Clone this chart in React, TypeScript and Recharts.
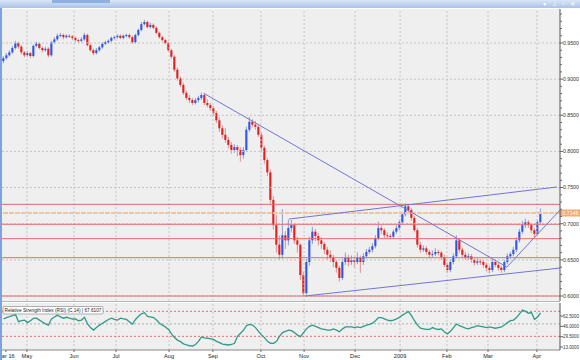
import React from 'react';
import { ComposedChart, LineChart, Line, Bar, XAxis, YAxis, ReferenceLine } from 'recharts';

type C = [number, number, number, number]; // open, high, low, close

const candlesAprMay: C[] = [
  [.925,.932,.922,.929],[.929,.936,.927,.933],[.933,.940,.931,.937],[.937,.946,.935,.943],[.943,.953,.941,.950],
  [.950,.952,.942,.945],[.945,.947,.934,.937],[.937,.939,.930,.933],[.933,.939,.931,.936],[.936,.938,.929,.932],
  [.932,.948,.930,.946],[.946,.952,.944,.949],[.949,.951,.941,.943],[.943,.945,.937,.940],[.940,.945,.938,.942],
  [.942,.944,.930,.933],[.933,.953,.931,.951],[.951,.958,.949,.955],[.955,.963,.953,.960],[.960,.964,.958,.961],
  [.961,.963,.955,.958],[.958,.962,.956,.960],[.960,.962,.957,.959],[.959,.961,.954,.957],[.957,.959,.951,.954],
  [.954,.956,.950,.953],[.953,.958,.951,.955],[.955,.964,.953,.961],[.961,.963,.945,.947],[.947,.949,.938,.940],
];
const candlesJunJul: C[] = [
  [.940,.942,.933,.936],[.936,.943,.934,.940],[.940,.946,.938,.944],[.944,.951,.942,.949],[.949,.953,.947,.951],
  [.951,.955,.949,.953],[.953,.959,.951,.957],[.957,.960,.955,.958],[.958,.962,.956,.960],[.960,.962,.955,.957],
  [.957,.962,.955,.960],[.960,.963,.958,.961],[.961,.963,.956,.958],[.958,.960,.949,.951],[.951,.963,.949,.961],
  [.961,.970,.959,.968],[.968,.979,.966,.976],[.976,.982,.974,.979],[.979,.981,.970,.972],[.972,.978,.970,.975],
  [.975,.977,.969,.971],[.971,.973,.962,.964],[.964,.966,.956,.958],[.958,.960,.952,.954],[.954,.956,.948,.950],
  [.950,.952,.938,.940],[.940,.942,.928,.931],[.931,.933,.910,.913],[.913,.916,.898,.901],[.901,.904,.889,.892],
];
const candlesAugSep: C[] = [
  [.892,.895,.878,.881],[.881,.884,.871,.874],[.874,.878,.867,.871],[.871,.874,.864,.867],[.867,.874,.865,.871],
  [.871,.877,.868,.874],[.874,.881,.871,.878],[.878,.880,.864,.867],[.867,.872,.861,.864],[.864,.867,.856,.860],
  [.860,.863,.849,.853],[.853,.856,.839,.843],[.843,.847,.827,.832],[.832,.836,.818,.823],[.823,.832,.812,.816],
  [.816,.820,.804,.809],[.809,.813,.797,.802],[.802,.810,.798,.806],[.806,.809,.793,.802],[.802,.806,.786,.795],
  [.795,.806,.790,.802],[.802,.834,.800,.830],[.830,.848,.827,.841],[.841,.845,.833,.837],[.837,.842,.830,.834],
  [.834,.837,.820,.823],[.823,.826,.800,.805],[.805,.808,.783,.788],[.788,.791,.766,.771],[.771,.775,.728,.733],
];
const candlesOctNov: C[] = [
  [.733,.738,.692,.698],[.698,.712,.660,.671],[.671,.684,.650,.657],[.657,.720,.652,.684],[.684,.690,.665,.677],
  [.677,.706,.670,.694],[.694,.705,.688,.698],[.698,.700,.672,.677],[.677,.682,.660,.671],[.671,.673,.622,.629],
  [.629,.634,.600,.604],[.604,.652,.602,.647],[.647,.682,.642,.677],[.677,.696,.672,.689],[.689,.693,.676,.683],
  [.683,.687,.670,.677],[.677,.681,.665,.672],[.672,.675,.658,.664],[.664,.668,.650,.657],[.657,.663,.647,.653],
  [.653,.657,.640,.647],[.647,.650,.632,.639],[.639,.642,.620,.625],[.625,.652,.622,.647],[.647,.660,.643,.653],
  [.653,.657,.641,.647],[.647,.656,.643,.650],[.650,.654,.640,.647],[.647,.660,.644,.653],[.653,.656,.632,.647],
];
const candlesDecJan: C[] = [
  [.647,.659,.643,.655],[.655,.665,.652,.661],[.661,.668,.658,.664],[.664,.673,.660,.669],[.669,.684,.666,.680],
  [.680,.703,.677,.694],[.694,.698,.686,.691],[.691,.694,.680,.684],[.684,.688,.679,.683],[.683,.686,.678,.682],
  [.682,.692,.679,.689],[.689,.698,.686,.694],[.694,.705,.691,.702],[.702,.716,.699,.713],[.713,.728,.710,.724],
  [.724,.727,.714,.719],[.719,.722,.704,.708],[.708,.711,.688,.691],[.691,.694,.667,.671],[.671,.675,.660,.664],
  [.664,.670,.661,.666],[.666,.669,.657,.661],[.661,.664,.652,.657],[.657,.663,.654,.658],[.658,.666,.655,.661],
  [.661,.664,.656,.660],[.660,.662,.650,.654],[.654,.657,.640,.643],[.643,.646,.632,.636],[.636,.651,.633,.647],
];
const candlesFebApr: C[] = [
  [.647,.659,.644,.655],[.655,.684,.652,.677],[.677,.680,.660,.664],[.664,.667,.653,.657],[.657,.661,.650,.653],
  [.653,.659,.650,.655],[.655,.658,.646,.650],[.650,.653,.642,.646],[.646,.652,.643,.648],[.648,.651,.643,.647],
  [.647,.650,.639,.643],[.643,.646,.634,.639],[.639,.642,.631,.636],[.636,.651,.633,.647],[.647,.650,.640,.643],
  [.643,.646,.635,.639],[.639,.642,.632,.636],[.636,.650,.633,.647],[.647,.659,.644,.655],[.655,.661,.652,.658],
  [.658,.668,.655,.664],[.664,.681,.661,.677],[.677,.693,.674,.689],[.689,.704,.686,.698],[.698,.707,.694,.702],
  [.702,.705,.694,.698],[.698,.701,.687,.691],[.691,.694,.682,.686],[.686,.705,.684,.702],[.702,.721,.700,.715],
];

const rsiValues: number[] = [
  57.7, 60, 61.4, 63, 65, 53.4, 55, 56, 52, 55,
  58.8, 59, 56, 53, 50, 48, 58, 61, 64, 61,
  59, 60.5, 59, 57.7, 57.7, 55, 56, 60.4, 50, 44,
  40, 44, 48, 51, 54, 57, 59, 57, 56, 59,
  58, 57, 53, 49.7, 57, 62, 66, 67.8, 62, 61,
  60, 56, 51, 48, 45, 41, 34, 28, 24, 21.5,
  18, 16.2, 15, 14.6, 17, 22, 29, 27.5, 27, 26,
  25, 22, 20, 17.5, 17, 16.2, 17, 19, 30, 35,
  40, 47, 49, 48, 44, 38, 32, 28, 22, 19,
  18.9, 22, 30, 36, 38, 40, 39, 36, 32, 29.5,
  36, 42, 46, 48, 46, 44, 42, 41, 40, 40,
  42, 40, 37.4, 42, 45, 45, 45, 44, 45, 44,
  46, 48, 49, 51, 55, 60, 60, 58, 56, 55,
  56, 58, 60.4, 64, 67, 69.4, 63, 55, 48, 43,
  42, 41, 41, 44, 42, 41, 42, 37, 34, 38,
  44, 49.7, 47, 45, 43, 42, 44, 45, 47, 46,
  45, 44, 45, 44, 43, 44, 45, 48, 52, 55,
  56, 60, 66, 72, 70, 67, 68, 57, 61, 67.6,
];

const monthTicks = [0.8, 7.8, 23.5, 37.5, 55.2, 69.8, 85.8, 100.2, 117.2, 132.2, 147.8, 161.5, 177.8];
const monthLabels = ['Mar 16', 'May', 'Jun', 'Jul', 'Aug', 'Sep', 'Oct', 'Nov', 'Dec', '2009', 'Feb', 'Mar', 'Apr'];
const priceMajor = [0.6, 0.65, 0.7, 0.75, 0.8, 0.85, 0.9, 0.95];
const priceTicks = Array.from({ length: 40 }, (_, k) => +(0.6 + k * 0.01).toFixed(2));
const rsiTicks = [13, 29.5, 46, 62.5];
const rsiLevels = [70, 50, 30];
const supportLevels = [0.7268, 0.6992, 0.6793, 0.653, 0.6];
const lastPrice = 0.7148;
const trendLines: [number, number][][] = [
  [[66.7, 0.8805], [167.8, 0.6401]],
  [[95.2, 0.7065], [184.5, 0.7508]],
  [[100.5, 0.6], [185.5, 0.6387]],
  [[167.8, 0.6401], [185.5, 0.7189]],
];

const allCandles = [...candlesAprMay, ...candlesJunJul, ...candlesAugSep, ...candlesOctNov, ...candlesDecJan, ...candlesFebApr];
const data = allCandles.map(([o, h, l, c], i) => ({ i, o, h, l, c, range: [l, h], rsi: rsiValues[i] }));

const FONT = '"Liberation Sans", Arial, sans-serif';

const Candle = (props: any) => {
  let { x, y, width, height, payload } = props;
  if (x == null || !payload) return null;
  if (height < 0) { y = y + height; height = -height; }
  const { o, h, l, c } = payload;
  const k = height / Math.max(h - l, 1e-6);
  const yO = y + (h - o) * k;
  const yC = y + (h - c) * k;
  const up = c >= o;
  const top = Math.min(yO, yC);
  const bh = Math.max(1, Math.abs(yO - yC));
  const cx = x + width / 2;
  const bw = width - 0.6;
  return (
    <g>
      <line x1={cx} x2={cx} y1={y} y2={y + height} stroke={up ? '#8c9ad6' : '#d69494'} strokeWidth={1} />
      <rect x={cx - bw / 2} y={top} width={bw} height={bh} fill={up ? '#2f55e4' : '#e11f1f'} />
    </g>
  );
};

const PriceTick = (p: any) => {
  const v = p.payload.value;
  const major = priceMajor.some((m) => Math.abs(m - v) < 1e-6);
  return (
    <g>
      <line x1={p.x} x2={p.x + (major ? 3 : 2)} y1={p.y} y2={p.y} stroke="#666" />
      {major && (
        <text x={p.x + 3} y={p.y + 1.8} fontSize={5.2} fill="#333" fontFamily={FONT}>{v.toFixed(4)}</text>
      )}
    </g>
  );
};

const RsiTick = (p: any) => (
  <g>
    <line x1={p.x} x2={p.x + 3} y1={p.y} y2={p.y} stroke="#666" />
    <text x={p.x + 3} y={p.y + 1.8} fontSize={5} fill="#333" fontFamily={FONT} textLength={16} lengthAdjust="spacingAndGlyphs">
      {p.payload.value.toFixed(4)}
    </text>
  </g>
);

const DateTick = (p: any) => {
  const idx = monthTicks.findIndex((m) => Math.abs(m - p.payload.value) < 1e-6);
  return (
    <g>
      <line x1={p.x} x2={p.x} y1={p.y} y2={p.y + 2} stroke="#666" />
      <text x={p.x} y={p.y + 7.5} fontSize={5.6} fill="#222" textAnchor="middle" fontFamily={FONT}>{monthLabels[idx]}</text>
    </g>
  );
};

const PriceTag = (p: any) => {
  const vb = p.viewBox || {};
  const x = (vb.x || 0) + (vb.width || 0);
  const y = vb.y || 0;
  return (
    <g>
      <rect x={x} y={y - 3.5} width={20} height={7} fill="#f3aa70" />
      <text x={x + 2.5} y={y + 1.9} fontSize={5.2} fill="#fff" fontFamily={FONT}>{lastPrice.toFixed(4)}</text>
    </g>
  );
};

export default function App() {
  return (
    <div style={{ position: 'absolute', left: 0, top: 0, width: 580, height: 360, background: '#fff', overflow: 'hidden', fontFamily: FONT }}>
      <div style={{ position: 'absolute', left: 2, top: 9, width: 558, height: 292, background: '#efefef' }} />
      <div style={{ position: 'absolute', left: 2, top: 303, width: 558, height: 47, background: '#efefef' }} />
      <div style={{ position: 'absolute', left: 0, top: 301, width: 560, height: 1, background: '#b8b8b8' }} />
      <div style={{ position: 'absolute', left: 0, top: 0 }}>
        <ComposedChart width={580} height={302} data={data} margin={{ top: 9, right: 0, left: 2, bottom: 1 }}>
          <XAxis type="number" dataKey="i" domain={[-0.5, 185.5]} hide allowDataOverflow />
          <YAxis orientation="right" domain={[0.5931, 0.997]} ticks={priceTicks} interval={0} width={20}
            tick={<PriceTick />} tickSize={0} tickMargin={0} tickLine={false} axisLine={{ stroke: '#555' }} allowDataOverflow />
          {priceMajor.map((p) => (
            <ReferenceLine key={'g' + p} y={p} stroke="#c4c4c4" strokeDasharray="2 2" />
          ))}
          {monthTicks.slice(1).map((m) => (
            <ReferenceLine key={'m' + m} x={m} stroke="#c4c4c4" strokeDasharray="2 2" />
          ))}
          {supportLevels.map((p) => (
            <ReferenceLine key={'s' + p} y={p} stroke="#e46a6a" strokeWidth={1} />
          ))}
          <ReferenceLine y={lastPrice} stroke="#f6c29a" strokeWidth={2} strokeDasharray="5 1" label={<PriceTag />} />
          <Bar dataKey="range" barSize={3} shape={<Candle />} isAnimationActive={false} />
          {trendLines.map((seg, k) => (
            <ReferenceLine key={'t' + k} segment={[{ x: seg[0][0], y: seg[0][1] }, { x: seg[1][0], y: seg[1][1] }]}
              stroke="#7474d6" strokeWidth={1} ifOverflow="visible" />
          ))}
        </ComposedChart>
      </div>
      <div style={{ position: 'absolute', left: 0, top: 302 }}>
        <LineChart width={580} height={58} data={data} margin={{ top: 1, right: 0, left: 2, bottom: 0 }}>
          <XAxis type="number" dataKey="i" domain={[-0.5, 185.5]} ticks={monthTicks} interval={0} height={10}
            tick={<DateTick />} tickSize={0} tickMargin={0} tickLine={false} axisLine={{ stroke: '#888' }} allowDataOverflow />
          <YAxis orientation="right" domain={[8.2, 83.3]} ticks={rsiTicks} interval={0} width={20}
            tick={<RsiTick />} tickSize={0} tickMargin={0} tickLine={false} axisLine={{ stroke: '#555' }} allowDataOverflow />
          {monthTicks.slice(1).map((m) => (
            <ReferenceLine key={'rm' + m} x={m} stroke="#c4c4c4" strokeDasharray="2 2" />
          ))}
          {rsiLevels.map((v) => (
            <ReferenceLine key={'rl' + v} y={v} stroke={v === 50 ? '#b0b0b0' : '#e07070'} strokeDasharray="2 2" />
          ))}
          <Line dataKey="rsi" type="linear" stroke="#2f9a88" strokeWidth={1.3} dot={false} isAnimationActive={false} />
        </LineChart>
      </div>
      <svg style={{ position: 'absolute', left: 0, top: 0 }} width={580} height={360}>
        <rect x={3} y={306.5} width={100} height={7.5} fill="#fff" stroke="#999" strokeWidth={0.8} rx={1} />
        <text x={4.5} y={312.3} fontSize={5.3} fill="#222" fontFamily={FONT} textLength={97} lengthAdjust="spacingAndGlyphs">
          Relative Strength Index (RSI) (C,14) | 67.6107
        </text>
      </svg>
      <div style={{ position: 'absolute', left: 0, top: 0, width: 580, height: 8, background: 'linear-gradient(#d9e6f6, #a9c3e7)' }} />
      <div style={{ position: 'absolute', left: 52, top: 0, width: 58, height: 3, background: '#8fb0de' }} />
      <div style={{ position: 'absolute', right: 3, top: 0, height: 8, fontSize: 6, lineHeight: '8px', color: '#fff', letterSpacing: 2 }}>▾ ⊥ ▫ ✕</div>
      <div style={{ position: 'absolute', left: 0, top: 8, width: 2, height: 352, background: '#7ea3d8' }} />
    </div>
  );
}
